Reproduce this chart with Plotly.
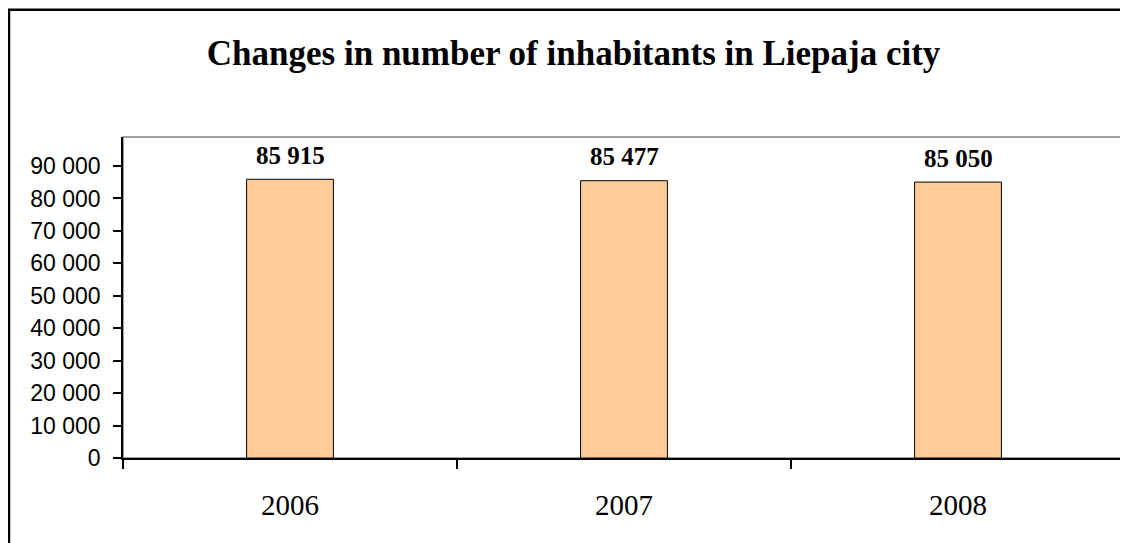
import plotly.graph_objects as go

years = ["2006", "2007", "2008"]
inhabitants = [85915, 85477, 85050]

serif = "Liberation Serif, Times New Roman, serif"
sans = "Liberation Sans, Arial, sans-serif"

fig = go.Figure(go.Bar(
    x=years,
    y=inhabitants,
    width=0.26,
    marker=dict(color="#FFCC99", line=dict(color="black", width=1)),
    hoverinfo="x+y",
))

# value labels above the bars (x given as category index)
for i, v in enumerate(inhabitants):
    fig.add_annotation(
        x=i, y=v, text=f"{v:,}".replace(",", " "),
        showarrow=False, yshift=24, yanchor="middle",
        font=dict(family=serif, size=25, color="black", weight="bold"),
    )

# grey plot frame + black outer chart border
fig.add_shape(type="rect", xref="paper", yref="paper", x0=0, x1=1, y0=0, y1=1,
              line=dict(color="#808080", width=1.5), layer="below")
fig.add_shape(type="rect", xref="paper", yref="paper", x0=-0.1138, x1=1.2,
              y0=-0.5, y1=1.3966, line=dict(color="black", width=2.5))

fig.update_layout(
    width=1120,
    height=535,
    margin=dict(l=115, r=3, t=129, b=85, autoexpand=False),
    paper_bgcolor="white",
    plot_bgcolor="white",
    separators=". ",
    showlegend=False,
    title=dict(
        text="Changes in number of inhabitants in Liepaja city",
        x=0.505, xanchor="center", y=0.916, yanchor="middle",
        font=dict(family=serif, size=35, color="black", weight="bold"),
    ),
    xaxis=dict(
        type="category",
        range=[-0.5, 2.5],
        tickangle=0,
        showline=True, linecolor="black", linewidth=1.5,
        ticks="outside", tickson="boundaries", ticklen=9, tickcolor="black",
        tickwidth=1.5, ticklabelstandoff=20,
        tickfont=dict(family=serif, size=29, color="black"),
        showgrid=False,
    ),
    yaxis=dict(
        range=[0, 98950],
        dtick=10000,
        tickformat=",d",
        showline=True, linecolor="black", linewidth=1.5,
        ticks="outside", ticklen=8, tickcolor="black", tickwidth=1.5,
        ticklabelstandoff=8,
        tickfont=dict(family=sans, size=23, color="black"),
        showgrid=False, zeroline=False,
    ),
)

fig.write_html("out.html")
